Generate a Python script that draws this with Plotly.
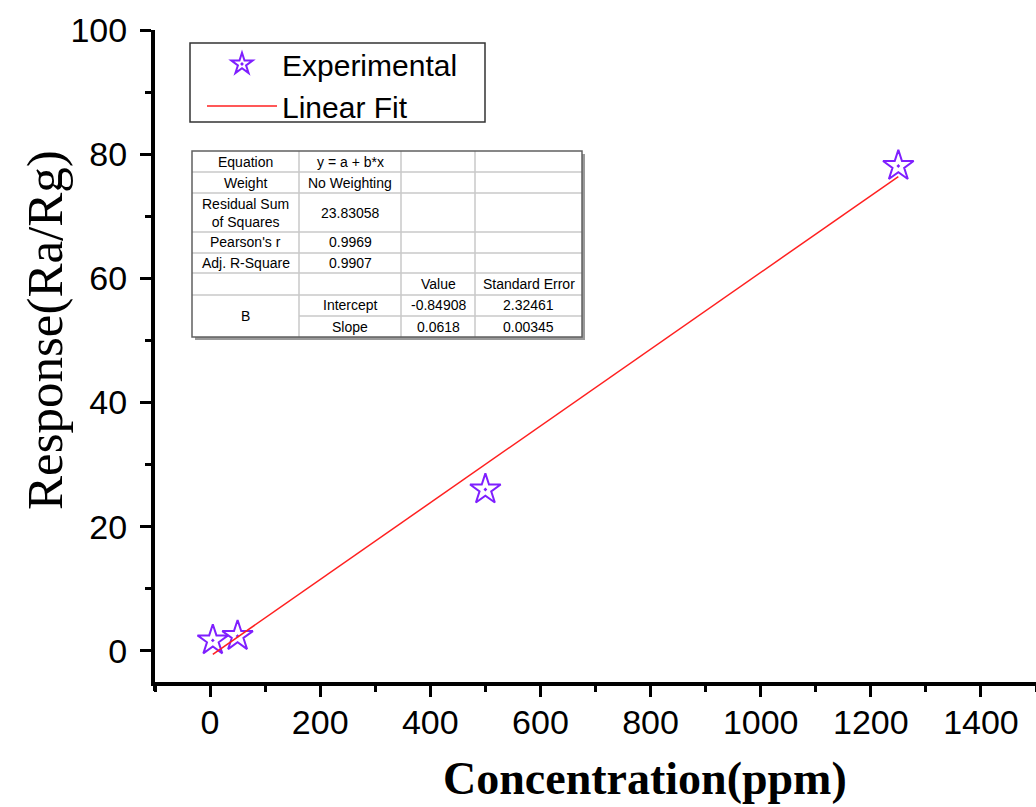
import plotly.graph_objects as go

# ---------------- data ----------------
conc = [5, 50, 500, 1250]            # ppm
resp = [1.7, 2.4, 26.0, 78.1]        # Ra/Rg

fit_intercept = -0.84908
fit_slope = 0.0618

stat_labels = ["Equation", "Weight", "Residual Sum<br>of Squares", "Pearson's r", "Adj. R-Square"]
stat_values = ["y = a + b*x", "No Weighting", "23.83058", "0.9969", "0.9907"]
param_headers = ["Value", "Standard Error"]
param_group = "B"
param_names = ["Intercept", "Slope"]
param_values = ["-0.84908", "0.0618"]
param_errors = ["2.32461", "0.00345"]

x_ticks = [0, 200, 400, 600, 800, 1000, 1200, 1400]
y_ticks = [0, 20, 40, 60, 80, 100]

# ---------------- layout geometry (pixels) ----------------
W, H = 1036, 807
L, R, T, B = 155, 0, 30, 125
PW, PH = W - L - R, H - T - B


def px(xp):
    return (xp - L) / PW


def py(yp):
    return (H - B - yp) / PH


fit_x = [min(conc), max(conc)]
fit_y = [fit_intercept + fit_slope * v for v in fit_x]

fig = go.Figure()
fig.add_trace(go.Scatter(
    x=conc, y=resp, mode="markers", name="Experimental",
    marker=dict(symbol="star-open-dot", size=23, color="#7f1fff",
                line=dict(width=2, color="#7f1fff")),
))
fig.add_trace(go.Scatter(
    x=fit_x, y=fit_y, mode="lines", name="Linear Fit",
    line=dict(color="#ff2020", width=1.5),
))

axis_font = dict(family="Liberation Sans, Arial", size=34, color="black")
fig.update_xaxes(
    range=[-100, 1500], tickvals=x_ticks, ticks="outside", ticklen=11, tickwidth=3,
    tickcolor="black", showline=True, linewidth=4, linecolor="black",
    showgrid=False, zeroline=False, tickfont=axis_font, ticklabelstandoff=-4,
    minor=dict(dtick=100, ticks="outside", ticklen=6, tickwidth=3, tickcolor="black", showgrid=False),
)
fig.update_yaxes(
    range=[-5, 100], tickvals=y_ticks, ticks="outside", ticklen=11, tickwidth=3,
    tickcolor="black", showline=True, linewidth=4, linecolor="black",
    showgrid=False, zeroline=False, tickfont=axis_font, ticklabelstandoff=6,
    minor=dict(dtick=10, ticks="outside", ticklen=6, tickwidth=3, tickcolor="black", showgrid=False),
)

annotations = [
    dict(text="<b>Concentration(ppm)</b>", x=px(645), y=py(778), xref="paper", yref="paper",
         showarrow=False, xanchor="center", yanchor="middle",
         font=dict(family="Liberation Serif, Times New Roman", size=46, color="black")),
    dict(text="Response(Ra/Rg)", x=px(45), y=py(330), xref="paper", yref="paper",
         showarrow=False, xanchor="center", yanchor="middle", textangle=-90,
         font=dict(family="Liberation Serif, Times New Roman", size=51, color="black")),
]

shapes = []

# left axis runs slightly past the bottom axis (Origin style)
shapes.append(dict(type="line", xref="paper", yref="paper",
                   x0=0, x1=0, y0=0, y1=py(691),
                   line=dict(color="black", width=4), layer="above"))

# ---------------- fit-result table ----------------
col_x = [192, 299, 401, 475, 582]
row_y = [151, 172, 193, 232, 253, 273, 295, 316, 337]
grid = "#c8c8c8"
# shadow
shapes.append(dict(type="rect", xref="paper", yref="paper",
                   x0=px(col_x[0] + 3), x1=px(col_x[-1] + 3), y0=py(row_y[0] + 3), y1=py(row_y[-1] + 3),
                   fillcolor="#9a9a9a", line=dict(width=0), layer="above"))
shapes.append(dict(type="rect", xref="paper", yref="paper",
                   x0=px(col_x[0]), x1=px(col_x[-1]), y0=py(row_y[0]), y1=py(row_y[-1]),
                   fillcolor="white", line=dict(width=0), layer="above"))
# horizontal lines
for i, yy in enumerate(row_y[1:-1], start=1):
    x_start = col_x[1] if i == 7 else col_x[0]
    shapes.append(dict(type="line", xref="paper", yref="paper",
                       x0=px(x_start), x1=px(col_x[-1]), y0=py(yy), y1=py(yy),
                       line=dict(color=grid, width=1.5), layer="above"))
# vertical lines
for xx in col_x[1:-1]:
    shapes.append(dict(type="line", xref="paper", yref="paper",
                       x0=px(xx), x1=px(xx), y0=py(row_y[0]), y1=py(row_y[-1]),
                       line=dict(color=grid, width=1.5), layer="above"))
# outer border
shapes.append(dict(type="rect", xref="paper", yref="paper",
                   x0=px(col_x[0]), x1=px(col_x[-1]), y0=py(row_y[0]), y1=py(row_y[-1]),
                   line=dict(color="#606060", width=1.5), layer="above"))

tfont = dict(family="Liberation Sans, Arial", size=14, color="black")


def cell(text, c0, c1, r0, r1):
    annotations.append(dict(text=text, xref="paper", yref="paper",
                            x=px((col_x[c0] + col_x[c1]) / 2), y=py((row_y[r0] + row_y[r1]) / 2),
                            showarrow=False, xanchor="center", yanchor="middle",
                            font=tfont, align="center"))


for i, (lab, val) in enumerate(zip(stat_labels, stat_values)):
    cell(lab, 0, 1, i, i + 1)
    cell(val, 1, 2, i, i + 1)
cell(param_headers[0], 2, 3, 5, 6)
cell(param_headers[1], 3, 4, 5, 6)
cell(param_group, 0, 1, 6, 8)
for j in range(2):
    cell(param_names[j], 1, 2, 6 + j, 7 + j)
    cell(param_values[j], 2, 3, 6 + j, 7 + j)
    cell(param_errors[j], 3, 4, 6 + j, 7 + j)

# legend frame
shapes.append(dict(type="rect", xref="paper", yref="paper",
                   x0=px(190), x1=px(485), y0=py(43), y1=py(122),
                   line=dict(color="#333333", width=1.5), fillcolor="rgba(0,0,0,0)", layer="above"))

fig.update_layout(
    width=W, height=H, margin=dict(l=L, r=R, t=T, b=B),
    plot_bgcolor="white", paper_bgcolor="white",
    showlegend=True,
    legend=dict(x=px(202), y=py(38), xanchor="left", yanchor="top",
                bgcolor="rgba(0,0,0,0)", borderwidth=0, itemwidth=70,
                font=dict(family="Liberation Sans, Arial", size=30, color="black"),
                tracegroupgap=0),
    annotations=annotations, shapes=shapes,
)

fig.write_html("out.html")
